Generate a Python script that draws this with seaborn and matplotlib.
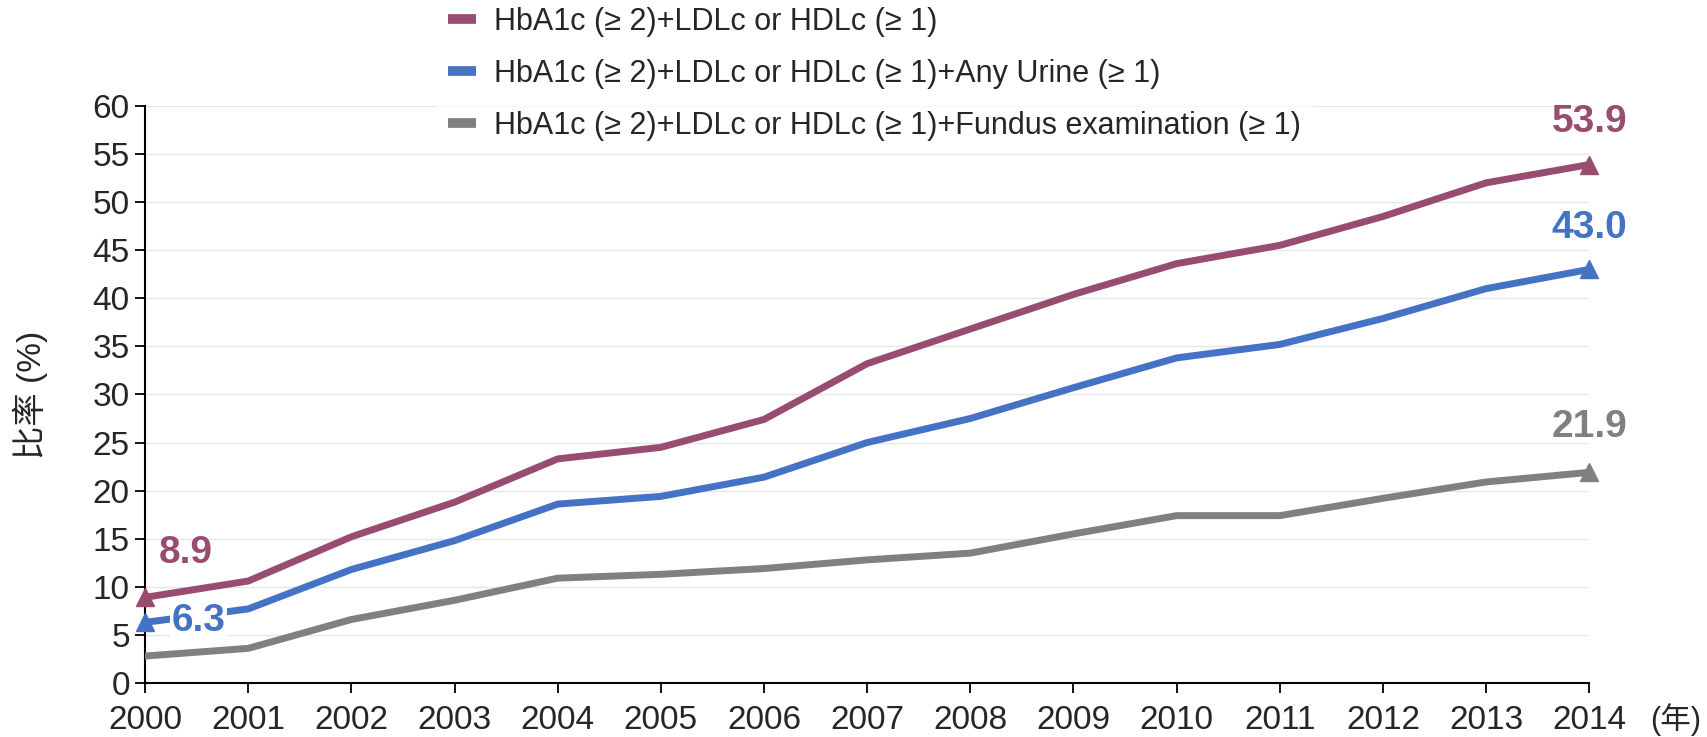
import numpy as np
import pandas as pd
import matplotlib.pyplot as plt
import seaborn as sns
from matplotlib.lines import Line2D

years = list(range(2000, 2015))
lipid = [8.9, 10.6, 15.2, 18.8, 23.3, 24.5, 27.4, 33.2, 36.8, 40.4, 43.6, 45.5, 48.5, 52.0, 53.9]
urine = [6.3, 7.7, 11.8, 14.8, 18.6, 19.4, 21.4, 25.0, 27.5, 30.7, 33.8, 35.2, 37.9, 41.0, 43.0]
fundus = [2.8, 3.6, 6.6, 8.6, 10.9, 11.3, 11.9, 12.8, 13.5, 15.5, 17.4, 17.4, 19.2, 20.9, 21.9]
names = ['HbA1c (≥ 2)+LDLc or HDLc (≥ 1)',
         'HbA1c (≥ 2)+LDLc or HDLc (≥ 1)+Any Urine (≥ 1)',
         'HbA1c (≥ 2)+LDLc or HDLc (≥ 1)+Fundus examination (≥ 1)']
colors = ['#984D70', '#4472C4', '#808080']

df = pd.DataFrame({'year': years * 3,
                   'value': lipid + urine + fundus,
                   'group': [n for n in names for _ in years]})

sns.set_style('white')
plt.rcParams['font.family'] = ['Liberation Sans', 'Noto Sans CJK SC', 'DejaVu Sans']

fig = plt.figure(figsize=(17.07, 7.37), dpi=100)
ax = fig.add_axes([0.085, 0.0733, 0.846, 0.783])

sns.lineplot(data=df, x='year', y='value', hue='group', palette=colors,
             linewidth=5, legend=False, ax=ax, zorder=3)

# triangle markers at the ends
series = [lipid, urine, fundus]
for vals, c in zip(series, colors):
    ax.plot(years[-1], vals[-1], marker='^', markersize=13, color=c, zorder=4, clip_on=False)
for vals, c in zip(series[:2], colors[:2]):
    ax.plot(years[0], vals[0], marker='^', markersize=13, color=c, zorder=4, clip_on=False)

# value labels
lab_kw = dict(fontsize=28, fontweight='bold', ha='center', va='center', zorder=5, clip_on=False)
ax.text(2000.39, 13.5, f'{lipid[0]:.1f}', color=colors[0], **lab_kw)
ax.text(2000.52, 6.45, f'{urine[0]:.1f}', color=colors[1],
        bbox=dict(facecolor='white', edgecolor='none', pad=1), **lab_kw)
for vals, c, y in zip(series, colors, [58.3, 47.3, 26.6]):
    ax.text(years[-1], y, f'{vals[-1]:.1f}', color=c, **lab_kw)

ax.set_xlim(2000, 2014)
ax.set_ylim(0, 60)
ax.set_xticks(years)
ax.set_yticks(range(0, 61, 5))
ax.tick_params(axis='both', labelsize=24, direction='out', length=7, width=1.3,
               color='black', left=True, bottom=True)
ax.tick_params(axis='x', pad=9)
ax.tick_params(axis='y', pad=4)
ax.grid(axis='y', color='#E6E6E6', linewidth=1)
for side in ['top', 'right']:
    ax.spines[side].set_visible(False)
for side in ['left', 'bottom']:
    ax.spines[side].set_color('black')
    ax.spines[side].set_linewidth(1.5)
ax.set_xlabel('')
ax.set_ylabel('比率 (%)', fontsize=24, labelpad=32)
ax.text(1.06, -0.035, '(年)', transform=ax.transAxes, fontsize=22,
        ha='center', va='top', clip_on=False)

handles = [Line2D([0], [0], color=c, linewidth=7, solid_capstyle='butt') for c in colors]
leg = fig.legend(handles, names, loc='upper left', bbox_to_anchor=(0.2555, 1.007),
                 frameon=True, fontsize=22, handlelength=0.9, handletextpad=0.6,
                 labelspacing=0.72, borderaxespad=0)
leg.get_frame().set_facecolor('white')
leg.get_frame().set_edgecolor('none')
leg.set_zorder(10)

fig.savefig('out.png', dpi=100)
